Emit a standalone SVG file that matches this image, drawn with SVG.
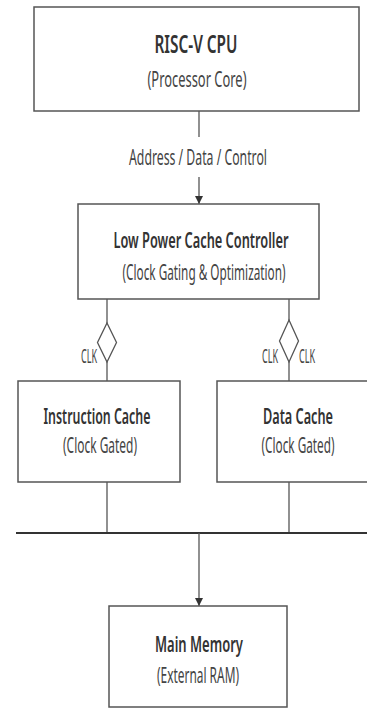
<svg xmlns="http://www.w3.org/2000/svg" width="367" height="708" viewBox="0 0 367 708">
<defs>
<marker id="arr" viewBox="0 0 10 10" refX="10" refY="5" markerWidth="8" markerHeight="11" markerUnits="userSpaceOnUse" orient="auto">
<path d="M0,0 L10,5 L0,10 Z" fill="#333"/>
</marker>
<style>
.box{fill:#fff;stroke:#555;stroke-width:1.5}
.t{font-family:"Noto Sans","Open Sans","Liberation Sans",sans-serif;text-anchor:middle;fill:#333;font-weight:600}
.s{font-family:"Noto Sans","Open Sans","Liberation Sans",sans-serif;text-anchor:middle;fill:#444}
.ln{stroke:#555;stroke-width:1.3;fill:none}
.dm{fill:#fff;stroke:#555;stroke-width:1.3}
</style>
</defs>
<rect width="367" height="708" fill="#fff"/>
<g id="connectors">
<line class="ln" x1="199" y1="111" x2="199" y2="137"/>
<line class="ln" x1="199" y1="177" x2="199" y2="204" marker-end="url(#arr)"/>
<text class="s" x="198" y="165" font-size="21" textLength="138" lengthAdjust="spacingAndGlyphs">Address / Data / Control</text>
<line class="ln" x1="107" y1="299" x2="107" y2="381"/>
<path class="dm" d="M107,323 L116.5,342.5 L107,362 L97.5,342.5 Z"/>
<text class="s" x="89" y="363" font-size="19" textLength="16" lengthAdjust="spacingAndGlyphs">CLK</text>
<line class="ln" x1="289" y1="299" x2="289" y2="381"/>
<path class="dm" d="M289,320 L298.5,341 L289,362 L279.5,341 Z"/>
<text class="s" x="270" y="363" font-size="19" textLength="16" lengthAdjust="spacingAndGlyphs">CLK</text>
<text class="s" x="307" y="363" font-size="19" textLength="16" lengthAdjust="spacingAndGlyphs">CLK</text>
<line class="ln" x1="107" y1="482" x2="107" y2="533"/>
<line class="ln" x1="289" y1="482" x2="289" y2="533"/>
<line x1="16" y1="533" x2="367" y2="533" stroke="#333" stroke-width="2"/>
<line class="ln" x1="199" y1="533" x2="199" y2="606" marker-end="url(#arr)"/>
</g>
<g id="cpu">
<rect class="box" x="34" y="7" width="325" height="104"/>
<text class="t" x="196" y="53" font-size="25" font-weight="bold" textLength="83" lengthAdjust="spacingAndGlyphs">RISC-V CPU</text>
<text class="s" x="197" y="87" font-size="21" textLength="99" lengthAdjust="spacingAndGlyphs">(Processor Core)</text>
</g>
<g id="controller">
<rect class="box" x="78" y="204" width="241" height="95"/>
<text class="t" x="201" y="248" font-size="22" textLength="175" lengthAdjust="spacingAndGlyphs">Low Power Cache Controller</text>
<text class="s" x="204" y="280" font-size="21" textLength="163" lengthAdjust="spacingAndGlyphs">(Clock Gating &amp; Optimization)</text>
</g>
<g id="icache">
<rect class="box" x="18" y="381" width="162" height="101"/>
<text class="t" x="97" y="424" font-size="22" textLength="107" lengthAdjust="spacingAndGlyphs">Instruction Cache</text>
<text class="s" x="100" y="453" font-size="21" textLength="74" lengthAdjust="spacingAndGlyphs">(Clock Gated)</text>
</g>
<g id="dcache">
<rect class="box" x="217" y="381" width="162" height="101"/>
<text class="t" x="298" y="424" font-size="22" textLength="70" lengthAdjust="spacingAndGlyphs">Data Cache</text>
<text class="s" x="298" y="453" font-size="21" textLength="73" lengthAdjust="spacingAndGlyphs">(Clock Gated)</text>
</g>
<g id="memory">
<rect class="box" x="109" y="606" width="178" height="101"/>
<text class="t" x="199" y="652" font-size="22" textLength="88" lengthAdjust="spacingAndGlyphs">Main Memory</text>
<text class="s" x="198" y="683" font-size="21" textLength="82" lengthAdjust="spacingAndGlyphs">(External RAM)</text>
</g>
</svg>
